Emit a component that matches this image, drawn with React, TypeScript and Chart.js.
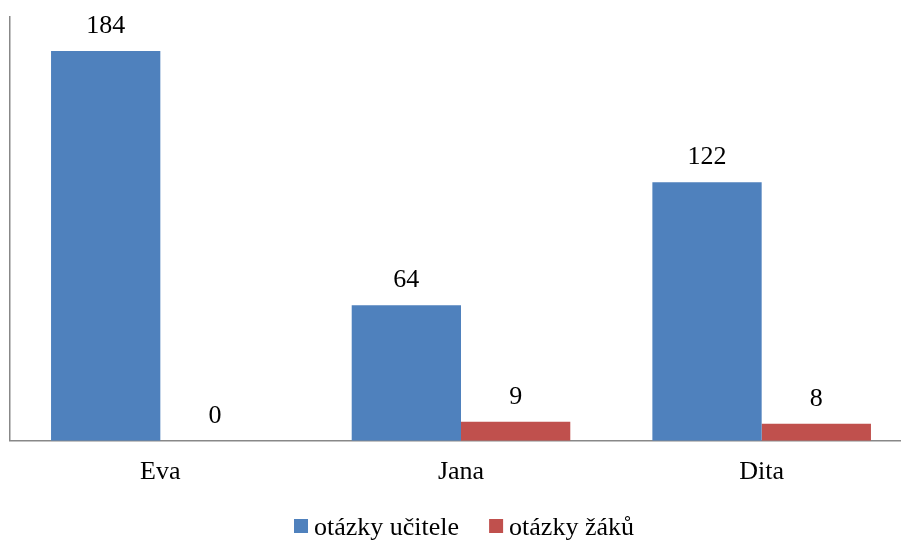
import React, { useEffect, useRef } from "react";
import { Chart, registerables } from "chart.js";

Chart.register(...registerables);

// Number of questions asked during the lessons
const categories = ["Eva", "Jana", "Dita"];
const seriesNames = ["otázky učitele", "otázky žáků"];
const teacherQuestions = [184, 64, 122];
const pupilQuestions = [0, 9, 8];
const yMin = 0;
const yMax = 200;

const SERIF = '"Liberation Serif", "Times New Roman", serif';
const BLUE = "#4F81BD";
const RED = "#C0504D";
const AXIS = "#888888";

// Value printed above each bar
const valueLabels = {
  id: "valueLabels",
  afterDatasetsDraw(chart: any) {
    const ctx = chart.ctx;
    ctx.save();
    ctx.font = `26px ${SERIF}`;
    ctx.fillStyle = "#000";
    ctx.textAlign = "center";
    ctx.textBaseline = "alphabetic";
    chart.data.datasets.forEach((ds: any, i: number) => {
      const meta = chart.getDatasetMeta(i);
      meta.data.forEach((bar: any, j: number) => {
        ctx.fillText(String(ds.data[j]), bar.x, bar.y - 18);
      });
    });
    ctx.restore();
  },
};

// Legend row under the axis: square swatch followed by the series name
const bottomLegend = {
  id: "bottomLegend",
  afterDraw(chart: any) {
    const ctx = chart.ctx;
    const area = chart.chartArea;
    ctx.save();
    ctx.font = `26px ${SERIF}`;
    ctx.textBaseline = "alphabetic";
    ctx.textAlign = "left";
    const box = 14;
    const gapText = 6;
    const gapItem = 30;
    const items = chart.data.datasets.map((ds: any) => ({
      text: ds.label,
      color: ds.backgroundColor,
      w: ctx.measureText(ds.label).width,
    }));
    const total =
      items.reduce((s: number, it: any) => s + box + gapText + it.w, 0) +
      gapItem * (items.length - 1);
    let x = (area.left + area.right) / 2 - total / 2 + 3;
    const baseline = chart.height - 6;
    items.forEach((it: any) => {
      ctx.fillStyle = it.color;
      ctx.fillRect(x, baseline - 16, box, box);
      x += box + gapText;
      ctx.fillStyle = "#000";
      ctx.fillText(it.text, x, baseline);
      x += it.w + gapItem;
    });
    ctx.restore();
  },
};

export default function App() {
  const canvasRef = useRef<HTMLCanvasElement | null>(null);

  useEffect(() => {
    if (!canvasRef.current) return;
    const chart = new Chart(canvasRef.current, {
      type: "bar",
      data: {
        labels: categories,
        datasets: [
          {
            label: seriesNames[0],
            data: teacherQuestions,
            backgroundColor: BLUE,
            categoryPercentage: 0.727,
            barPercentage: 1,
          },
          {
            label: seriesNames[1],
            data: pupilQuestions,
            backgroundColor: RED,
            categoryPercentage: 0.727,
            barPercentage: 1,
          },
        ],
      },
      options: {
        responsive: false,
        animation: false,
        devicePixelRatio: 1,
        layout: {
          padding: { left: 10, right: 13, top: 17, bottom: 37 },
        },
        plugins: {
          legend: { display: false },
          tooltip: { enabled: false },
        },
        scales: {
          x: {
            grid: { display: false, drawTicks: false, tickLength: 0 },
            border: { display: true, color: AXIS, width: 1.5 },
            ticks: {
              color: "#000",
              padding: 16,
              font: { family: SERIF, size: 26 },
            },
          },
          y: {
            min: yMin,
            max: yMax,
            grid: { display: false, drawTicks: false, tickLength: 0 },
            border: { display: true, color: AXIS, width: 1.5 },
            ticks: { display: false },
          },
        },
      },
      plugins: [valueLabels, bottomLegend],
    });
    return () => chart.destroy();
  }, []);

  return (
    <div
      style={{
        position: "fixed",
        left: 0,
        top: 0,
        width: 901,
        height: 541,
        overflow: "hidden",
        background: "#fff",
      }}
    >
      <canvas
        ref={canvasRef}
        width={925}
        height={541}
        style={{ display: "block" }}
      />
    </div>
  );
}
